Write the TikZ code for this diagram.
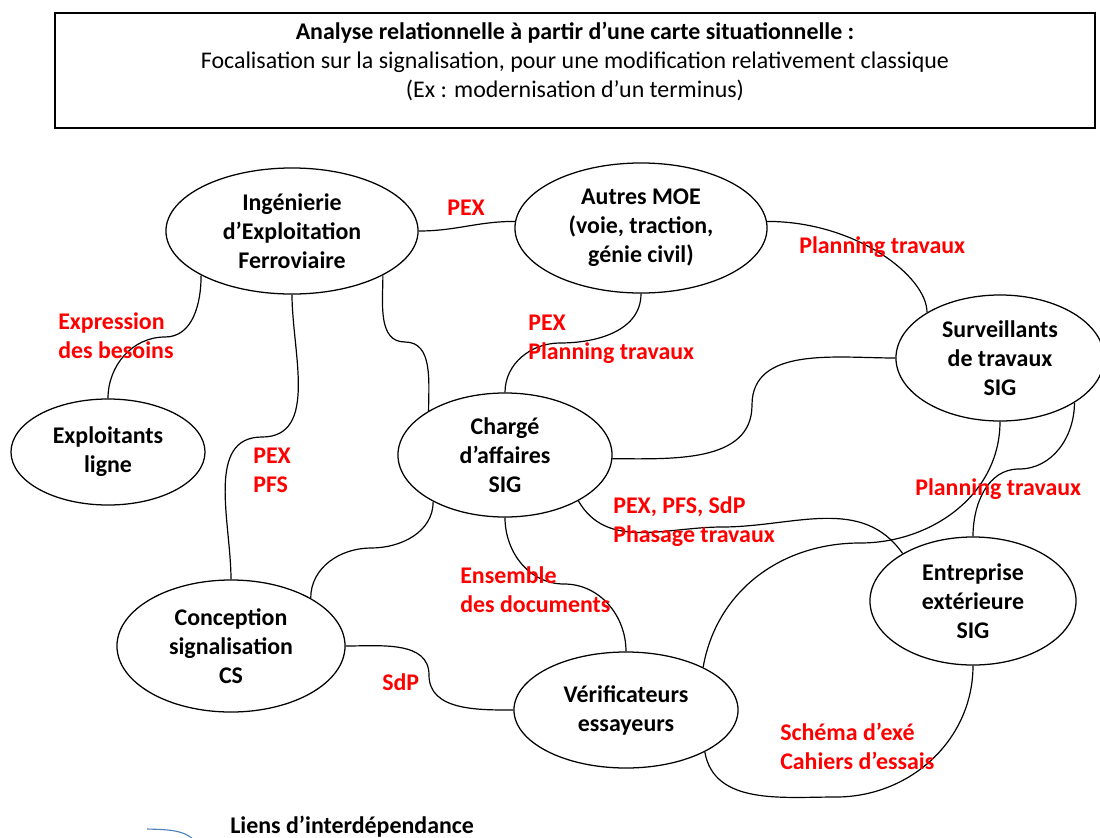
\documentclass[tikz,border=0pt]{standalone}
\usepackage{fontspec}
\setmainfont{Carlito}
\usetikzlibrary{shapes.geometric}
\definecolor{lienbleu}{RGB}{79,129,189}
\begin{document}
\begin{tikzpicture}[x=0.025cm,y=-0.025cm,
	acteur/.style={draw, ellipse, line width=0.9pt, inner sep=0pt, align=center, font=\fontsize{17}{20.6}\selectfont\bfseries},
	lien/.style={line width=0.85pt},
	etiq/.style={text=red, anchor=west, align=left, inner sep=0pt, font=\fontsize{17}{20.6}\selectfont\bfseries}]
			\useasboundingbox (0,0) rectangle (1100,837);
			\clip (0,0) rectangle (1100,837);
			%title
			\draw[line width=1.3pt] (55,13) rectangle (1095,128);
			\node[align=center, font=\fontsize{17}{20.6}\selectfont](titre) at (575,61){\textbf{Analyse relationnelle à partir d’une carte situationnelle :}\\Focalisation sur la signalisation, pour une modification relativement classique\\(Ex : modernisation d’un terminus)};
			%actors
			\node[acteur, minimum width=6.3cm, minimum height=3.15cm](ing) at (292,231){Ingénierie\\d’Exploitation\\Ferroviaire};
			\node[acteur, minimum width=6.3cm, minimum height=3.25cm](moe) at (641,228){Autres MOE\\(voie, traction,\\génie civil)};
			\node[acteur, minimum width=4.85cm, minimum height=2.65cm](expl) at (108,452){Exploitants\\ligne};
			\node[acteur, minimum width=5.35cm, minimum height=3.1cm](charge) at (505,455){Chargé\\d’affaires\\SIG};
			\node[acteur, minimum width=5.2cm, minimum height=3.15cm](surv) at (1000,358){Surveillants\\de travaux\\SIG};
			\node[acteur, minimum width=5.15cm, minimum height=3.2cm](entr) at (973,601){Entreprise\\extérieure\\SIG};
			\node[acteur, minimum width=5.6cm, minimum height=2.9cm](verif) at (626,710){Vérificateurs\\essayeurs};
			\node[acteur, minimum width=5.7cm, minimum height=3.3cm](concep) at (231,646){Conception\\signalisation\\CS};
			%links
			\draw[lien] (ing.0) to[out=0,in=180] (moe.177);
			\draw[lien] (moe.3) .. controls +(89,0) and +(0,-36) .. (surv.148);
			\draw[lien] (ing.206) to[out=-90,in=0] (165,337) to[out=180,in=90] (expl.90);
			\draw[lien] (ing.-90) to[out=-90,in=0] (262,437) to[out=180,in=90] (concep.90);
			\draw[lien] (ing.-26) to[out=-90,in=180] (405,342) to[out=0,in=90] (charge.150);
			\draw[lien] (moe.-90) to[out=-90,in=0] (560,343) to[out=180,in=90] (charge.90);
			\draw[lien] (charge.-2) to[out=0,in=-90] (752,405) to[out=90,in=180] (surv.180);
			\draw[lien] (charge.-32) to[out=-60,in=180] (722,527) to[out=0,in=125] (entr.146);
			\draw[lien] (surv.-90) to[out=-90,in=0] (860,543) to[out=180,in=80] (verif.29);
			\draw[lien] (surv.-31) to[out=-90,in=0] (1019,469) to[out=180,in=90] (entr.90);
			\draw[lien] (verif.-28) to[out=-80,in=180] (836,797) to[out=0,in=-90] (entr.-90);
			\draw[lien] (charge.213) to[out=-90,in=0] (371,548) to[out=180,in=90] (concep.31);
			\draw[lien] (charge.-90) to[out=-90,in=180] (564,584) to[out=0,in=90] (verif.90);
			\draw[lien] (concep.0) to[out=0,in=90] (429,675) to[out=-90,in=180] (verif.180);
			%labels
			\node[etiq](pex) at (447,208){PEX};
			\node[etiq](plan1) at (799,247){Planning travaux};
			\node[etiq](besoins) at (58,336){Expression\\des besoins};
			\node[etiq](plan2) at (528,339){PEX\\Planning travaux};
			\node[etiq](pfs) at (253,470){PEX\\PFS};
			\node[etiq](phasage) at (613,522){PEX, PFS, SdP\\Phasage travaux};
			\node[etiq](plan3) at (915,489){Planning travaux};
			\node[etiq](docs) at (460,590){Ensemble\\des documents};
			\node[etiq](sdp) at (382,682){SdP};
			\node[etiq](essais) at (780,746){Schéma d’exé\\Cahiers d’essais};
			%legend
			\coordinate (lg1) at (147,829);
			\coordinate (lg2) at (200,850);
			\draw[lienbleu, line width=0.8pt] (lg1) to[out=-2,in=110] (lg2);
			\node[anchor=west, inner sep=0pt, font=\fontsize{17}{20.6}\selectfont\bfseries](legende) at (230,827){Liens d’interdépendance};
\end{tikzpicture}
\end{document}
